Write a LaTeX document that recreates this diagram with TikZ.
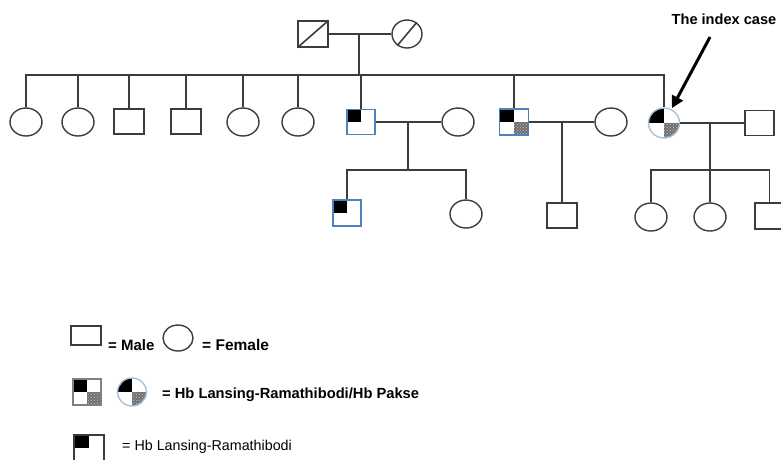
\documentclass[tikz,border=0pt]{standalone}
\usepackage{fontspec}
\setmainfont{Liberation Sans}
\usetikzlibrary{shapes.geometric,arrows.meta,patterns}
\definecolor{lnc}{HTML}{3C3C3C}
\definecolor{blu}{HTML}{4F81BD}
\definecolor{lblu}{HTML}{A9C0D6}
\definecolor{pgc}{HTML}{707070}
\begin{document}
\begin{tikzpicture}[x=1pt,y=-1pt,
  ln/.style={draw=lnc,line width=1.6pt},
  male/.style={rectangle,draw=lnc,line width=1.4pt,minimum width=30pt,minimum height=25pt,inner sep=0pt},
  fem/.style={ellipse,draw=lnc,line width=1.4pt,minimum width=32pt,minimum height=28pt,inner sep=0pt},
  qb/.style={path picture={\fill[black] (path picture bounding box.north west) rectangle (path picture bounding box.center);}},
  qbg/.style={path picture={
     \fill[black] (path picture bounding box.north west) rectangle (path picture bounding box.center);
     \fill[pgc] (path picture bounding box.center) rectangle (path picture bounding box.south east);
     \fill[pattern=crosshatch dots,pattern color=gray!45] (path picture bounding box.center) rectangle (path picture bounding box.south east);}},
  lab/.style={inner sep=0pt,anchor=base west,text=black},
  arr/.style={draw=black,line width=3pt,-{Triangle[length=12pt,width=12pt]}}
]
\useasboundingbox (0,0) rectangle (781,459);
\clip (0,0) rectangle (781,459);

% generation I
\node[male,minimum height=26pt] (f) at (313,34) {};
\node[fem,minimum width=30pt] (m) at (407,34) {};
\draw[ln] (f.south west) -- (f.north east);
\draw[ln] (m.-130) -- (m.50);
\coordinate (fm) at (359,34);
\coordinate (sibL) at (26,75);
\draw[ln] (f.east) -- (m.west);
\draw[ln] (fm) -- (fm |- sibL);

% generation II
\node[fem] (c1) at (26,122) {};
\node[fem] (c2) at (78,122) {};
\node[male] (c3) at (129,121.5) {};
\node[male] (c4) at (186,121.5) {};
\node[fem] (c5) at (243,122) {};
\node[fem] (c6) at (298,122) {};
\node[male,draw=blu,minimum width=28pt,qb] (c7) at (361,122) {};
\node[male,draw=blu,minimum width=29pt,minimum height=26pt,qbg] (c8) at (514,122) {};
\node[fem,draw=lblu,minimum width=31pt,minimum height=30pt,qbg] (c9) at (664,123) {};

\draw[ln] (c1.north) -- (c1.north |- sibL) -- (c9.north |- sibL) -- (c9.north);
\foreach \c in {c2,c3,c4,c5,c6,c7,c8}{
  \draw[ln] (\c.north |- sibL) -- (\c.north);
}

% spouses
\node[fem] (s7) at (458,122) {};
\node[fem] (s8) at (611,122) {};
\node[male,minimum width=29pt] (s9) at (759.5,123) {};
\draw[ln] (c7.east) -- (s7.west);
\draw[ln] (c8.east) -- (s8.west);
\draw[ln] (c9.east) -- (s9.west);

% generation III, family 7
\coordinate (m7) at (408,122);
\coordinate (b7) at (408,170);
\node[male,draw=blu,minimum width=28pt,minimum height=26pt,qb] (g7a) at (347,213) {};
\node[fem] (g7b) at (466,214) {};
\draw[ln] (m7) -- (b7);
\draw[ln] (g7a.north) -- (g7a.north |- b7) -- (g7b.north |- b7) -- (g7b.north);

% family 8
\coordinate (m8) at (562,122);
\node[male] (g8) at (562,215.5) {};
\draw[ln] (m8) -- (g8.north);

% family 9
\coordinate (m9) at (710,123);
\coordinate (b9) at (710,170);
\node[fem] (g9a) at (651,217) {};
\node[fem] (g9b) at (710,217) {};
\node[male,minimum width=29pt,minimum height=26pt] (g9c) at (769.5,216) {};
\draw[ln] (m9) -- (b9);
\draw[ln] (g9a.north) -- (g9a.north |- b9) -- (g9c.north |- b9) -- (g9c.north);
\draw[ln] (g9b.north |- b9) -- (g9b.north);

% index case
\node[inner sep=0pt,font=\bfseries\fontsize{14.6}{16}\selectfont] (idx) at (724,19) {The index case};
\coordinate (arS) at (710,37);
\draw[arr,shorten >=1pt] (arS) -- (c9.62);

% legend
\node[male,minimum height=19pt] (L1s) at (86,335.5) {};
\node[lab,font=\bfseries\fontsize{15}{17}\selectfont] (L1t) at (108,350) {= Male};
\node[fem,minimum width=30pt,minimum height=26pt] (L1c) at (178,338) {};
\node[lab,font=\bfseries\fontsize{15.5}{17}\selectfont] (L2t) at (202,350) {= Female};

\node[male,draw=gray,minimum width=28pt,minimum height=26pt,qbg] (L2s) at (87,392) {};
\node[fem,draw=lblu,minimum width=29pt,minimum height=28pt,qbg] (L2c) at (132,392) {};
\node[lab,font=\bfseries\fontsize{14.7}{17}\selectfont] (L2l) at (162,398) {= Hb Lansing-Ramathibodi/Hb Pakse};

\node[male,minimum width=30pt,minimum height=26pt,qb] (L3s) at (89,448) {};
\node[lab,font=\fontsize{14.3}{17}\selectfont] (L3t) at (122,450) {= Hb Lansing-Ramathibodi};
\end{tikzpicture}
\end{document}
